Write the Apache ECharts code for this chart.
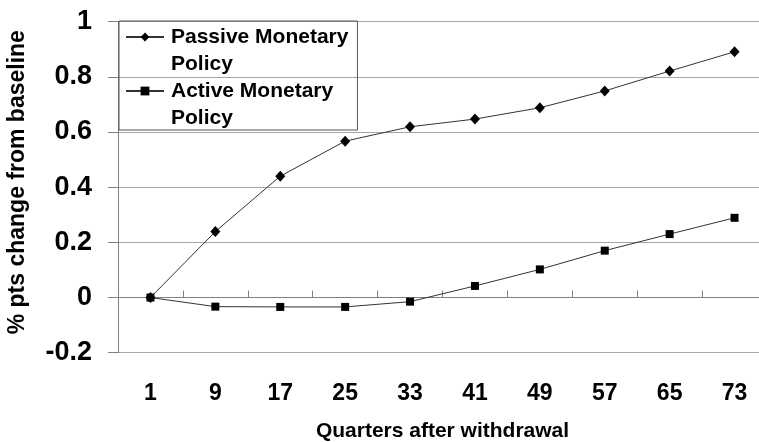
<!DOCTYPE html>
<html>
<head>
<meta charset="utf-8">
<script src="https://cdn.jsdelivr.net/npm/echarts@6/dist/echarts.min.js"></script>
<style>
html,body{margin:0;padding:0;background:#fff;}
#chart{width:759px;height:442px;}
</style>
</head>
<body>
<div id="chart"></div>
<script>
var categories = ['1', '9', '17', '25', '33', '41', '49', '57', '65', '73'];
var passiveValues = [0, 0.239, 0.44, 0.567, 0.619, 0.647, 0.688, 0.749, 0.821, 0.891];
var activeValues = [0, -0.033, -0.034, -0.034, -0.015, 0.042, 0.102, 0.17, 0.23, 0.289];
var seriesNames = ['Passive Monetary\nPolicy', 'Active Monetary\nPolicy'];
var yMin = -0.2, yMax = 1, yStep = 0.2;
var xTitle = 'Quarters after withdrawal';
var yTitle = '% pts change from baseline';

var FONT = '"Liberation Sans", Arial, Helvetica, sans-serif';
var chart = echarts.init(document.getElementById('chart'), null, {renderer: 'canvas'});
chart.setOption({
  animation: false,
  backgroundColor: '#ffffff',
  textStyle: {fontFamily: FONT},
  grid: {left: 118, right: -8, top: 21.7, bottom: 89.3, containLabel: false, outerBoundsMode: 'none'},
  legend: {
    orient: 'vertical',
    left: 119,
    top: 21,
    padding: [-24.5, 9, -1.5, 6],
    itemGap: -27,
    itemWidth: 38,
    itemHeight: 11,
    selectedMode: false,
    borderColor: '#555555',
    borderWidth: 1,
    backgroundColor: 'transparent',
    formatter: function (name) { return '\n' + name; },
    textStyle: {fontFamily: FONT, fontSize: 21, fontWeight: 'bold', color: '#000', lineHeight: 27, padding: [0, 0, 0, 2]},
    data: seriesNames
  },
  xAxis: {
    type: 'category',
    data: categories,
    boundaryGap: true,
    name: xTitle,
    nameLocation: 'middle',
    nameGap: 68,
    nameTextStyle: {fontFamily: FONT, fontSize: 21, fontWeight: 'bold', color: '#000'},
    axisLine: {lineStyle: {color: '#7f7f7f', width: 1}},
    axisTick: {show: true, inside: true, length: 7, alignWithLabel: false, lineStyle: {color: '#7f7f7f'}},
    axisLabel: {margin: 29, fontFamily: FONT, fontSize: 23, fontWeight: 'bold', color: '#000'},
    splitLine: {show: false}
  },
  yAxis: {
    type: 'value',
    min: yMin,
    max: yMax,
    interval: yStep,
    name: yTitle,
    nameLocation: 'middle',
    nameGap: 89,
    nameRotate: 90,
    nameTextStyle: {fontFamily: FONT, fontSize: 23, fontWeight: 'bold', color: '#000', padding: [0, 0, 0, 10]},
    axisLine: {show: true, lineStyle: {color: '#7f7f7f', width: 1}},
    axisTick: {show: true, inside: false, length: 10, lineStyle: {color: '#7f7f7f'}},
    axisLabel: {margin: 26, fontFamily: FONT, fontSize: 27, fontWeight: 'bold', color: '#000',
      formatter: function (v) { return String(+v.toFixed(1)); }},
    splitLine: {show: true, lineStyle: {color: '#a6a6a6', width: 1}}
  },
  series: [
    {
      name: seriesNames[0],
      type: 'line',
      data: passiveValues,
      symbol: 'diamond',
      symbolSize: [10, 11],
      itemStyle: {color: '#000'},
      lineStyle: {color: '#333', width: 1},
      z: 3
    },
    {
      name: seriesNames[1],
      type: 'line',
      data: activeValues,
      symbol: 'rect',
      symbolSize: 8,
      itemStyle: {color: '#000'},
      lineStyle: {color: '#333', width: 1},
      z: 4
    }
  ]
});
</script>
</body>
</html>
